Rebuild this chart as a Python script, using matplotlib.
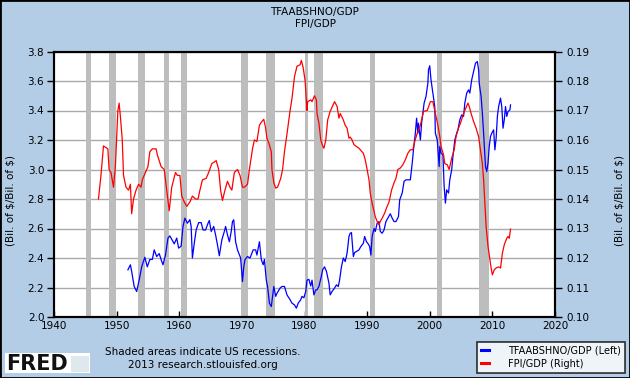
"""FRED-style dual-axis chart: TFAABSHNO/GDP (left) and FPI/GDP (right), 1947-2012."""
import matplotlib

matplotlib.use("Agg")
import matplotlib.pyplot as plt  # noqa: E402
from matplotlib.patches import Rectangle  # noqa: E402

BG = "#b4cde6"
BLUE = "#0000ff"
RED = "#ff0000"
SHADE = "#bdbdbd"
GRID = "#aaaaaa"

# TFAABSHNO/GDP (left axis)
tfa_years = [
    1951.8, 1952.2, 1952.4, 1952.8, 1953.2, 1953.6, 1954.0, 1954.5, 1954.9, 1955.3,
    1955.7, 1956.0, 1956.4, 1956.8, 1957.1, 1957.4, 1957.8, 1958.2, 1958.5, 1958.9,
    1959.2, 1959.6, 1959.9, 1960.3, 1960.6, 1960.9, 1961.3, 1961.7, 1961.9, 1962.1,
    1962.4, 1962.7, 1963.1, 1963.5, 1963.8, 1964.2, 1964.6, 1964.8, 1965.1, 1965.5,
    1965.8, 1966.1, 1966.4, 1966.8, 1967.2, 1967.4, 1967.7, 1968.0, 1968.3, 1968.5,
    1968.7, 1969.0, 1969.3, 1969.8, 1970.1, 1970.3, 1970.5, 1970.9, 1971.3, 1971.8,
    1972.2, 1972.4, 1972.8, 1973.1, 1973.4, 1973.6, 1973.9, 1974.1, 1974.4, 1974.7,
    1974.9, 1975.1, 1975.4, 1975.6, 1976.1, 1976.4, 1976.8, 1977.2, 1977.7, 1978.0,
    1978.4, 1978.7, 1979.0, 1979.4, 1979.6, 1979.9, 1980.2, 1980.4, 1980.7, 1981.0,
    1981.2, 1981.5, 1981.8, 1982.0, 1982.3, 1982.6, 1982.9, 1983.2, 1983.5, 1983.9,
    1984.1, 1984.4, 1984.8, 1985.1, 1985.4, 1985.6, 1985.9, 1986.2, 1986.5, 1986.8,
    1987.1, 1987.3, 1987.5, 1987.8, 1988.0, 1988.3, 1988.7, 1989.0, 1989.4, 1989.6,
    1989.9, 1990.1, 1990.4, 1990.6, 1990.8, 1991.1, 1991.3, 1991.6, 1991.9, 1992.1,
    1992.4, 1992.7, 1993.0, 1993.3, 1993.7, 1994.0, 1994.3, 1994.6, 1995.0, 1995.2,
    1995.6, 1995.9, 1996.2, 1996.6, 1996.9, 1997.2, 1997.4, 1997.7, 1997.9, 1998.1,
    1998.2, 1998.5, 1998.7, 1998.9, 1999.1, 1999.4, 1999.7, 1999.8, 2000.0, 2000.2,
    2000.5, 2000.8, 2000.9, 2001.2, 2001.5, 2001.6, 2001.8, 2002.1, 2002.3, 2002.5,
    2002.7, 2003.0, 2003.2, 2003.5, 2003.7, 2004.0, 2004.3, 2004.5, 2004.8, 2005.1,
    2005.4, 2005.6, 2005.9, 2006.2, 2006.4, 2006.7, 2007.0, 2007.3, 2007.6, 2007.8,
    2007.9, 2008.2, 2008.4, 2008.6, 2008.8, 2008.9, 2009.1, 2009.3, 2009.5, 2009.7,
    2009.9, 2010.2, 2010.4, 2010.6, 2010.8, 2011.0, 2011.3, 2011.5, 2011.7, 2011.9,
    2012.1, 2012.3, 2012.5, 2012.8, 2012.9,
]
tfa_values = [
    2.32, 2.354, 2.31, 2.207, 2.173, 2.25, 2.34, 2.405, 2.34, 2.39,
    2.39, 2.455, 2.41, 2.43, 2.39, 2.354, 2.42, 2.535, 2.55, 2.52,
    2.496, 2.535, 2.467, 2.48, 2.614, 2.67, 2.636, 2.66, 2.614, 2.40,
    2.50, 2.59, 2.64, 2.64, 2.59, 2.59, 2.636, 2.654, 2.58, 2.614,
    2.557, 2.49, 2.415, 2.523, 2.58, 2.614, 2.557, 2.51, 2.58, 2.647,
    2.659, 2.51, 2.455, 2.40, 2.24, 2.34, 2.39, 2.41, 2.40, 2.455,
    2.455, 2.42, 2.51, 2.39, 2.354, 2.39, 2.25, 2.207, 2.094, 2.071,
    2.14, 2.207, 2.14, 2.16, 2.196, 2.207, 2.207, 2.15, 2.117, 2.094,
    2.082, 2.06, 2.094, 2.117, 2.14, 2.13, 2.173, 2.25, 2.255, 2.21,
    2.25, 2.15, 2.184, 2.184, 2.207, 2.26, 2.32, 2.34, 2.31, 2.23,
    2.15, 2.173, 2.196, 2.218, 2.207, 2.25, 2.34, 2.40, 2.376, 2.433,
    2.546, 2.568, 2.572, 2.41, 2.437, 2.444, 2.455, 2.478, 2.50, 2.546,
    2.51, 2.50, 2.478, 2.42, 2.546, 2.60, 2.58, 2.636, 2.647, 2.58,
    2.568, 2.59, 2.647, 2.67, 2.70, 2.67, 2.647, 2.647, 2.68, 2.794,
    2.84, 2.92, 2.93, 2.93, 2.93, 3.043, 3.133, 3.246, 3.348, 3.246,
    3.314, 3.20, 3.314, 3.382, 3.45, 3.495, 3.585, 3.676, 3.703, 3.608,
    3.518, 3.427, 3.246, 3.20, 3.02, 3.156, 3.111, 3.10, 2.885, 2.772,
    2.862, 2.84, 2.93, 2.998, 3.088, 3.20, 3.246, 3.269, 3.337, 3.37,
    3.36, 3.45, 3.518, 3.54, 3.518, 3.608, 3.664, 3.72, 3.732, 3.676,
    3.585, 3.495, 3.382, 3.246, 3.088, 3.02, 2.986, 3.043, 3.156, 3.224,
    3.246, 3.269, 3.133, 3.212, 3.36, 3.427, 3.484, 3.427, 3.28, 3.337,
    3.427, 3.36, 3.393, 3.404, 3.438,
]

# FPI/GDP (right axis)
fpi_years = [
    1947.1, 1947.5, 1947.9, 1948.6, 1948.8, 1949.1, 1949.5, 1949.8, 1950.2, 1950.4,
    1950.6, 1950.9, 1951.1, 1951.5, 1951.9, 1952.2, 1952.4, 1952.7, 1953.1, 1953.5,
    1953.9, 1954.1, 1954.6, 1955.0, 1955.3, 1955.7, 1956.3, 1956.5, 1957.1, 1957.6,
    1958.0, 1958.4, 1958.8, 1959.4, 1959.7, 1960.1, 1960.4, 1960.8, 1961.2, 1961.7,
    1962.1, 1962.6, 1963.0, 1963.3, 1963.7, 1964.3, 1964.7, 1965.2, 1965.9, 1966.3,
    1966.6, 1966.9, 1967.3, 1967.7, 1968.1, 1968.4, 1968.8, 1969.3, 1969.7, 1970.1,
    1970.4, 1970.9, 1971.2, 1971.7, 1972.0, 1972.4, 1972.8, 1973.1, 1973.5, 1973.8,
    1974.0, 1974.3, 1974.7, 1974.8, 1975.1, 1975.4, 1975.7, 1976.2, 1976.5, 1976.8,
    1977.2, 1977.7, 1978.0, 1978.4, 1978.8, 1979.3, 1979.5, 1979.8, 1980.1, 1980.3,
    1980.4, 1980.5, 1981.0, 1981.2, 1981.6, 1981.9, 1982.0, 1982.3, 1982.6, 1982.9,
    1983.1, 1983.4, 1983.7, 1984.1, 1984.6, 1984.8, 1985.2, 1985.5, 1985.7, 1986.2,
    1986.5, 1986.8, 1987.1, 1987.3, 1987.6, 1987.9, 1988.3, 1988.7, 1988.9, 1989.4,
    1989.7, 1990.0, 1990.3, 1990.5, 1990.8, 1991.1, 1991.3, 1991.6, 1991.9, 1992.1,
    1992.4, 1992.8, 1993.1, 1993.5, 1993.9, 1994.3, 1994.6, 1994.9, 1995.3, 1995.7,
    1996.1, 1996.5, 1996.9, 1997.3, 1997.6, 1998.0, 1998.5, 1999.0, 1999.6, 2000.1,
    2000.5, 2000.9, 2001.3, 2001.6, 2001.8, 2002.2, 2002.4, 2002.8, 2003.1, 2003.5,
    2003.9, 2004.2, 2004.5, 2005.0, 2005.4, 2005.8, 2006.1, 2006.3, 2006.6, 2007.0,
    2007.4, 2007.8, 2008.1, 2008.4, 2008.6, 2008.8, 2009.0, 2009.3, 2009.6, 2009.8,
    2010.0, 2010.3, 2010.6, 2011.0, 2011.3, 2011.6, 2011.9, 2012.3, 2012.5, 2012.7,
    2012.9,
]
fpi_values = [
    0.140, 0.148, 0.158, 0.157, 0.150, 0.149, 0.144, 0.151, 0.170, 0.1725,
    0.168, 0.160, 0.148, 0.144, 0.143, 0.145, 0.135, 0.140, 0.143, 0.145,
    0.144, 0.1465, 0.149, 0.151, 0.156, 0.157, 0.157, 0.155, 0.151, 0.150,
    0.143, 0.136, 0.144, 0.149, 0.148, 0.148, 0.141, 0.139, 0.1375, 0.139,
    0.141, 0.140, 0.140, 0.143, 0.1465, 0.147, 0.149, 0.152, 0.153, 0.150,
    0.143, 0.1395, 0.143, 0.146, 0.144, 0.143, 0.149, 0.150, 0.148, 0.144,
    0.144, 0.145, 0.150, 0.157, 0.160, 0.1595, 0.165, 0.166, 0.167, 0.164,
    0.1606, 0.159, 0.156, 0.150, 0.1455, 0.1437, 0.144, 0.147, 0.150, 0.156,
    0.162, 0.170, 0.174, 0.1815, 0.185, 0.1855, 0.187, 0.1844, 0.180, 0.1736,
    0.170, 0.173, 0.1736, 0.173, 0.175, 0.1736, 0.169, 0.1657, 0.160, 0.158,
    0.1572, 0.160, 0.1668, 0.1697, 0.172, 0.173, 0.1714, 0.1674, 0.169, 0.1668,
    0.165, 0.164, 0.1606, 0.161, 0.160, 0.1584, 0.1578, 0.1572, 0.1567, 0.1555,
    0.1533, 0.150, 0.1465, 0.142, 0.1386, 0.1358, 0.134, 0.1324, 0.1312, 0.1324,
    0.1335, 0.1352, 0.137, 0.139, 0.143, 0.1455, 0.147, 0.150, 0.1505, 0.1516,
    0.1533, 0.1555, 0.1567, 0.1567, 0.1595, 0.1623, 0.165, 0.1697, 0.170, 0.173,
    0.173, 0.169, 0.165, 0.1612, 0.1578, 0.155, 0.152, 0.1516, 0.150, 0.1538,
    0.1567, 0.1612, 0.1634, 0.1663, 0.169, 0.171, 0.1725, 0.1714, 0.169, 0.1663,
    0.164, 0.1612, 0.1567, 0.152, 0.1465, 0.1386, 0.1307, 0.124, 0.1194, 0.1166,
    0.1143, 0.116, 0.1166, 0.117, 0.1166, 0.1216, 0.1245, 0.1267, 0.1273, 0.1267,
    0.1298,
]

# NBER recessions (start, end) in decimal years
rec_start = [1945.1, 1948.8, 1953.4, 1957.5, 1960.2, 1969.8, 1973.8, 1980.0, 1981.5, 1990.5, 2001.1, 2007.9]
rec_end = [1945.9, 1949.9, 1954.5, 1958.4, 1961.2, 1970.9, 1975.3, 1980.6, 1982.9, 1991.3, 2001.9, 2009.5]

x_ticks = list(range(1940, 2030, 10))
left_ticks = [2.0, 2.2, 2.4, 2.6, 2.8, 3.0, 3.2, 3.4, 3.6, 3.8]
right_ticks = [0.10, 0.11, 0.12, 0.13, 0.14, 0.15, 0.16, 0.17, 0.18, 0.19]

W, H = 630, 378
FS = 7.5
UNITS = r"(Bil. of \$/Bil. of \$)"

fig = plt.figure(figsize=(W / 100, H / 100), dpi=100, facecolor=BG)
ax = fig.add_axes([54 / W, 1 - 317 / H, (555 - 54) / W, (317 - 51.5) / H])
ax.set_facecolor("white")

for s, e in zip(rec_start, rec_end):
    ax.axvspan(s, e, color=SHADE, lw=0, zorder=1)

ax.set_xlim(1940, 2020)
ax.set_ylim(2.0, 3.8)
ax.set_xticks(x_ticks)
ax.set_yticks(left_ticks)
ax.set_yticklabels([f"{v:.1f}" for v in left_ticks])
ax.grid(axis="y", color=GRID, lw=1, zorder=0)
ax.set_axisbelow(True)
ax.tick_params(axis="x", direction="in", length=4, width=1, labelsize=FS, pad=3)
ax.tick_params(axis="y", direction="out", length=5, width=1, labelsize=FS, pad=2)
for sp in ax.spines.values():
    sp.set_linewidth(1.5)

ax.plot(tfa_years, tfa_values, color=BLUE, lw=0.9, zorder=3, label="TFAABSHNO/GDP (Left)")

ax2 = ax.twinx()
ax2.set_ylim(0.10, 0.19)
ax2.set_yticks(right_ticks)
ax2.set_yticklabels([f"{v:.2f}" for v in right_ticks])
ax2.tick_params(axis="y", direction="out", length=5, width=1, labelsize=FS, pad=3)
for sp in ax2.spines.values():
    sp.set_linewidth(1.5)
ax2.plot(fpi_years, fpi_values, color=RED, lw=0.9, zorder=3, label="FPI/GDP (Right)")

# titles and axis labels
fig.text(315 / W, 1 - 11.5 / H, "TFAABSHNO/GDP", ha="center", va="center", fontsize=FS)
fig.text(315 / W, 1 - 24.5 / H, "FPI/GDP", ha="center", va="center", fontsize=FS)
fig.text(11 / W, 1 - 200 / H, UNITS, rotation=90, ha="center", va="center", fontsize=FS)
fig.text(619 / W, 1 - 200 / H, UNITS, rotation=90, ha="center", va="center", fontsize=FS)

# footer
fig.text(203 / W, 1 - 352 / H, "Shaded areas indicate US recessions.", ha="center", va="center", fontsize=FS)
fig.text(203 / W, 1 - 365.5 / H, "2013 research.stlouisfed.org", ha="center", va="center", fontsize=FS)
fig.patches.append(Rectangle((5 / W, 1 - 373 / H), 85 / W, 20 / H, transform=fig.transFigure,
                             facecolor="white", edgecolor="none"))
fig.patches.append(Rectangle((71 / W, 1 - 372 / H), 18 / W, 16 / H, transform=fig.transFigure,
                             facecolor="#dfe8ec", edgecolor="none"))
fig.text(6 / W, 1 - 363.5 / H, "FRED", ha="left", va="center", fontsize=15, fontweight="bold",
         color="#111111")

# legend
h1, l1 = ax.get_legend_handles_labels()
h2, l2 = ax2.get_legend_handles_labels()
leg = fig.legend(h1 + h2, l1 + l2, loc="upper left", bbox_to_anchor=(477 / W, 1 - 342 / H),
                 fontsize=7, frameon=True, fancybox=False, edgecolor="black",
                 handlelength=0.8, handletextpad=2.0, borderpad=0.4, labelspacing=0.3,
                 borderaxespad=0)
leg.get_frame().set_linewidth(1.2)
for ln in leg.get_lines():
    ln.set_linewidth(2.2)

# outer border
fig.patches.append(Rectangle((0, 0), 1, 1, transform=fig.transFigure, fill=False,
                             edgecolor="black", lw=2))

fig.savefig("out.png", dpi=100, facecolor=BG)
